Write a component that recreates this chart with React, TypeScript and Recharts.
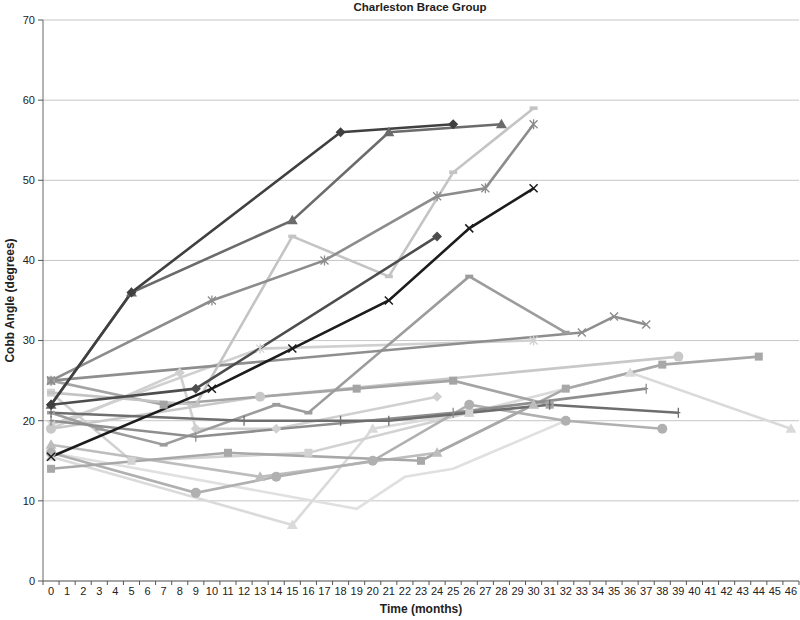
import React from 'react';
import { LineChart, Line, XAxis, YAxis, CartesianGrid } from 'recharts';

// ---- axis ticks ----
const monthTicks = [0,1,2,3,4,5,6,7,8,9,10,11,12,13,14,15,16,17,18,19,20,21,22,23,24,25,26,27,28,29,30,31,32,33,34,35,36,37,38,39,40,41,42,43,44,45,46];
const yTicks = [0, 10, 20, 30, 40, 50, 60, 70];

// ---- series: [month, Cobb angle] ----
const sA = [[0, 22], [5, 36], [18, 56], [25, 57]];
const sB = [[0, 22], [5, 36], [15, 45], [21, 56], [28, 57]];
const sC = [[0, 23.5], [9, 22], [15, 43], [21, 38], [25, 51], [30, 59]];
const sD = [[0, 25], [10, 35], [17, 40], [24, 48], [27, 49], [30, 57]];
const sE = [[0, 15.5], [10, 24], [15, 29], [21, 35], [26, 44], [30, 49]];
const sF = [[0, 22], [9, 24], [24, 43]];
const sG = [[0, 21], [3, 19], [7, 17], [14, 22], [16, 21], [26, 38], [32, 31]];
const sH = [[0, 25], [33, 31], [35, 33], [37, 32]];
const sI = [[0, 19.5], [13, 29], [30, 30]];
const sJ = [[0, 14], [11, 16], [23, 15], [32, 24], [38, 27], [44, 28]];
const sK = [[0, 15.5], [15, 7], [20, 19], [26, 21], [36, 26], [46, 19]];
const sL = [[0, 16], [9, 11], [14, 13], [20, 15], [26, 22], [32, 20], [38, 19]];
const sM = [[0, 19], [13, 23], [39, 28]];
const sN = [[0, 21], [12, 20], [18, 20], [21, 20], [31, 22], [39, 21]];
const sO = [[0, 20], [9, 18], [25, 21], [37, 24]];
const sP = [[0, 25], [7, 22], [19, 24], [25, 25], [31, 22]];
const sQ = [[0, 19], [8, 26], [9, 19], [14, 19], [24, 23]];
const sR = [[0, 16], [19, 9], [22, 13], [25, 14], [32, 20]];
const sS = [[0, 23.5], [5, 15], [16, 16], [26, 21]];
const sU = [[0, 17], [13, 13], [24, 16], [30, 22]];

type Shape = 'diamond' | 'triangle' | 'square' | 'circle' | 'x' | 'asterisk' | 'plus' | 'dash' | 'none';

const seriesList: { key: string; pts: number[][]; color: string; shape: Shape }[] = [
  { key: 'R', pts: sR, color: '#e0e0e0', shape: 'none' },
  { key: 'K', pts: sK, color: '#dadada', shape: 'triangle' },
  { key: 'S', pts: sS, color: '#d2d2d2', shape: 'square' },
  { key: 'Q', pts: sQ, color: '#d0d0d0', shape: 'diamond' },
  { key: 'I', pts: sI, color: '#d0d0d0', shape: 'asterisk' },
  { key: 'M', pts: sM, color: '#c8c8c8', shape: 'circle' },
  { key: 'U', pts: sU, color: '#bdbdbd', shape: 'triangle' },
  { key: 'L', pts: sL, color: '#b0b0b0', shape: 'circle' },
  { key: 'J', pts: sJ, color: '#a8a8a8', shape: 'square' },
  { key: 'P', pts: sP, color: '#a4a4a4', shape: 'square' },
  { key: 'G', pts: sG, color: '#9c9c9c', shape: 'dash' },
  { key: 'O', pts: sO, color: '#8e8e8e', shape: 'plus' },
  { key: 'H', pts: sH, color: '#8e8e8e', shape: 'x' },
  { key: 'C', pts: sC, color: '#c4c4c4', shape: 'dash' },
  { key: 'D', pts: sD, color: '#8c8c8c', shape: 'asterisk' },
  { key: 'N', pts: sN, color: '#6e6e6e', shape: 'plus' },
  { key: 'B', pts: sB, color: '#6b6b6b', shape: 'triangle' },
  { key: 'F', pts: sF, color: '#4d4d4d', shape: 'diamond' },
  { key: 'A', pts: sA, color: '#404040', shape: 'diamond' },
  { key: 'E', pts: sE, color: '#1c1c1c', shape: 'x' },
];

const table = monthTicks.map((m) => {
  const row: Record<string, number | null> = { month: m };
  seriesList.forEach((s) => {
    const hit = s.pts.find((p) => p[0] === m);
    row[s.key] = hit ? hit[1] : null;
  });
  return row;
});

const FONT = "'Liberation Sans Narrow', 'Arial Narrow', 'Liberation Sans', Arial, sans-serif";

const makeDot = (shape: Shape, color: string, key: string) => (props: any) => {
  const { cx, cy, index, payload } = props;
  const k = `${key}-${index}`;
  if (shape === 'none' || cx == null || cy == null || payload == null || payload[key] == null) {
    return <g key={k} />;
  }
  const s = 4;
  switch (shape) {
    case 'diamond':
      return <path key={k} d={`M${cx},${cy - 5}L${cx + 5},${cy}L${cx},${cy + 5}L${cx - 5},${cy}Z`} fill={color} />;
    case 'triangle':
      return <path key={k} d={`M${cx},${cy - 5.5}L${cx + 5.5},${cy + 4}L${cx - 5.5},${cy + 4}Z`} fill={color} />;
    case 'square':
      return <rect key={k} x={cx - s} y={cy - s} width={2 * s} height={2 * s} fill={color} />;
    case 'circle':
      return <circle key={k} cx={cx} cy={cy} r={5} fill={color} />;
    case 'dash':
      return <rect key={k} x={cx - 4} y={cy - 1.8} width={8} height={3.6} fill={color} />;
    case 'x':
      return (
        <path key={k} d={`M${cx - s},${cy - s}L${cx + s},${cy + s}M${cx - s},${cy + s}L${cx + s},${cy - s}`} stroke={color} strokeWidth={1.5} fill="none" />
      );
    case 'asterisk':
      return (
        <path key={k} d={`M${cx - s},${cy - s}L${cx + s},${cy + s}M${cx - s},${cy + s}L${cx + s},${cy - s}M${cx},${cy - s - 1}L${cx},${cy + s + 1}`} stroke={color} strokeWidth={1.3} fill="none" />
      );
    case 'plus':
      return (
        <path key={k} d={`M${cx},${cy - 5}L${cx},${cy + 5}M${cx - 2},${cy}L${cx + 2},${cy}`} stroke={color} strokeWidth={1.3} fill="none" />
      );
    default:
      return <g key={k} />;
  }
};

const PLOT_W = 756;
const HALF_BAND = PLOT_W / 47 / 2;

const XTick = (props: any) => {
  const { x, y, payload } = props;
  const axisY = y - 6;
  return (
    <g>
      <line x1={x - HALF_BAND} x2={x - HALF_BAND} y1={axisY} y2={axisY + 4} stroke="#555" strokeWidth={1} />
      {payload.value === 46 ? (
        <line x1={x + HALF_BAND} x2={x + HALF_BAND} y1={axisY} y2={axisY + 4} stroke="#555" strokeWidth={1} />
      ) : null}
      <text x={x} y={y} dy="0.75em" textAnchor="middle" fontSize={11} fill="#222" fontFamily={FONT}>
        {payload.value}
      </text>
    </g>
  );
};

export default function App() {
  return (
    <div style={{ position: 'relative', width: 800, height: 620, background: '#fff', fontFamily: FONT }}>
      <style>{`body{margin:0}`}</style>
      <div
        style={{
          position: 'absolute',
          left: 320,
          width: 200,
          top: 0,
          textAlign: 'center',
          fontWeight: 'bold',
          fontSize: 11.5,
          color: '#222',
          lineHeight: '14px',
          fontFamily: FONT,
        }}
      >
        Charleston Brace Group
      </div>
      <LineChart width={800} height={620} data={table} margin={{ top: 20, right: 1, bottom: 0, left: 0 }}>
        <CartesianGrid vertical={false} horizontal={true} stroke="#c6c6c6" strokeWidth={1} />
        <XAxis
          dataKey="month"
          type="number"
          domain={[-0.5, 46.5]}
          ticks={monthTicks}
          interval={0}
          allowDataOverflow
          height={39}
          tickSize={4}
          tickMargin={2}
          tickLine={false}
          tick={<XTick />}
          axisLine={{ stroke: '#666', strokeWidth: 1 }}
          label={{
            value: 'Time (months)',
            position: 'insideBottom',
            offset: 7,
            style: { fontWeight: 'bold', fontSize: 12, fill: '#222', fontFamily: FONT, textAnchor: 'middle' },
          }}
        />
        <YAxis
          type="number"
          domain={[0, 70]}
          ticks={yTicks}
          interval={0}
          width={43}
          tickSize={5}
          tickMargin={3}
          axisLine={{ stroke: '#666', strokeWidth: 1 }}
          tickLine={{ stroke: '#555' }}
          tick={{ fontSize: 11, fill: '#222', fontFamily: FONT }}
          label={{
            value: 'Cobb Angle (degrees)',
            angle: -90,
            position: 'insideLeft',
            offset: 10,
            style: { fontWeight: 'bold', fontSize: 12, fill: '#222', fontFamily: FONT, textAnchor: 'middle' },
          }}
        />
        {seriesList.map((s) => (
          <Line
            key={s.key}
            dataKey={s.key}
            type="linear"
            stroke={s.color}
            strokeWidth={2.6}
            connectNulls
            isAnimationActive={false}
            dot={makeDot(s.shape, s.color, s.key)}
            activeDot={false}
          />
        ))}
      </LineChart>
    </div>
  );
}
